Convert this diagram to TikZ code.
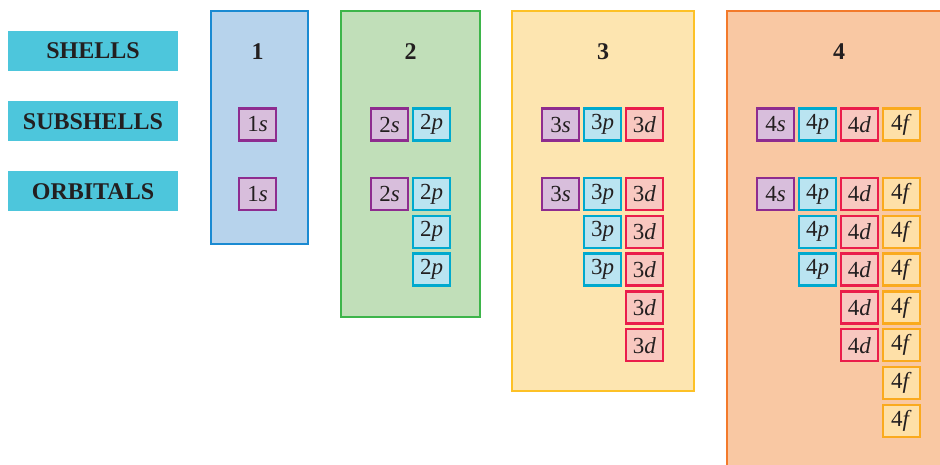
\documentclass[tikz,border=0pt]{standalone}
\usepackage{fontspec}
\setmainfont{Liberation Serif}
\usetikzlibrary{positioning}
\usepackage{xcolor}

\definecolor{inkdark}{HTML}{231F20}
\definecolor{tagcyan}{HTML}{4DC6DC}
\definecolor{oneline}{HTML}{1A8AD2}
\definecolor{onefill}{HTML}{B7D3EC}
\definecolor{twoline}{HTML}{3DB54A}
\definecolor{twofill}{HTML}{C1DFB9}
\definecolor{threeline}{HTML}{FDC126}
\definecolor{threefill}{HTML}{FDE5B0}
\definecolor{fourline}{HTML}{F37A2B}
\definecolor{fourfill}{HTML}{F9C8A3}
\definecolor{sline}{HTML}{8E2C8F}
\definecolor{sfill}{HTML}{D8BEDC}
\definecolor{pline}{HTML}{00A9CE}
\definecolor{pfill}{HTML}{BAE4F1}
\definecolor{dline}{HTML}{EA1D4B}
\definecolor{dfill}{HTML}{F8C8C0}
\definecolor{fline}{HTML}{FAAA1E}
\definecolor{ffill}{HTML}{FEE0A8}

\tikzset{
  tagbox/.style={fill=tagcyan, text=inkdark, minimum width=170, minimum height=40,
    inner sep=0pt, font=\fontsize{24}{28}\selectfont\bfseries},
  shellnum/.style={text=inkdark, font=\fontsize{24}{28}\selectfont\bfseries},
  orb/.style={minimum width=37, minimum height=32, inner sep=0pt, line width=2.4pt,
    text=inkdark, font=\fontsize{23}{26}\selectfont},
  sorb/.style={orb, draw=sline, fill=sfill},
  porb/.style={orb, draw=pline, fill=pfill},
  dorb/.style={orb, draw=dline, fill=dfill},
  forb/.style={orb, draw=fline, fill=ffill}
}

\begin{document}
\begin{tikzpicture}[x=1pt, y=-1pt]
      \clip (0,0) rectangle (940,465);
      \fill[white] (0,0) rectangle (940,465);

      % row labels
      \node[tagbox] (shells) at (93, 51) {SHELLS};
      \node[tagbox] (subshells) at (93, 121.5) {SUBSHELLS};
      \node[tagbox] (orbitals) at (93, 191.5) {ORBITALS};

      % shell panels
      \draw[fill=onefill, draw=oneline, line width=2pt]
        (211, 11) rectangle (308, 244);
      \draw[fill=twofill, draw=twoline, line width=2pt]
        (341, 11) rectangle (480, 317);
      \draw[fill=threefill, draw=threeline, line width=2pt]
        (512, 11) rectangle (694, 391);
      \draw[fill=fourfill, draw=fourline, line width=2pt]
        (727, 11) rectangle (980, 490);

      \node[shellnum] (none) at (257.5, 52) {1};
      \node[shellnum] (ntwo) at (410.5, 52) {2};
      \node[shellnum] (nthree) at (603, 52) {3};
      \node[shellnum] (nfour) at (839, 52) {4};

      % subshells
      \node[sorb] (sub1s) at (257.5, 124.5) {1\textit{s}};
      \node[sorb] (sub2s) at (389.5, 124.5) {2\textit{s}};
      \node[porb] (sub2p) at (431.5, 124.5) {2\textit{p}};
      \node[sorb] (sub3s) at (560.5, 124.5) {3\textit{s}};
      \node[porb] (sub3p) at (602.5, 124.5) {3\textit{p}};
      \node[dorb] (sub3d) at (644.5, 124.5) {3\textit{d}};
      \node[sorb] (sub4s) at (775.5, 124.5) {4\textit{s}};
      \node[porb] (sub4p) at (817.5, 124.5) {4\textit{p}};
      \node[dorb] (sub4d) at (859.5, 124.5) {4\textit{d}};
      \node[forb] (sub4f) at (901.5, 124.5) {4\textit{f}};

      % orbitals
      \node[sorb] (orb1s) at (257.5, 194) {1\textit{s}};
      \node[sorb] (orb2s) at (389.5, 194) {2\textit{s}};
      \node[sorb] (orb3s) at (560.5, 194) {3\textit{s}};
      \node[sorb] (orb4s) at (775.5, 194) {4\textit{s}};
      \foreach \k in {0,1,2} {
        \node[porb] (orb2p\k) at (431.5, {194+37.8*\k}) {2\textit{p}};
        \node[porb] (orb3p\k) at (602.5, {194+37.8*\k}) {3\textit{p}};
        \node[porb] (orb4p\k) at (817.5, {194+37.8*\k}) {4\textit{p}};
      }
      \foreach \k in {0,...,4} {
        \node[dorb] (orb3d\k) at (644.5, {194+37.8*\k}) {3\textit{d}};
        \node[dorb] (orb4d\k) at (859.5, {194+37.8*\k}) {4\textit{d}};
      }
      \foreach \k in {0,...,6}
        \node[forb] (orb4f\k) at (901.5, {194+37.8*\k}) {4\textit{f}};
    \end{tikzpicture}
\end{document}
